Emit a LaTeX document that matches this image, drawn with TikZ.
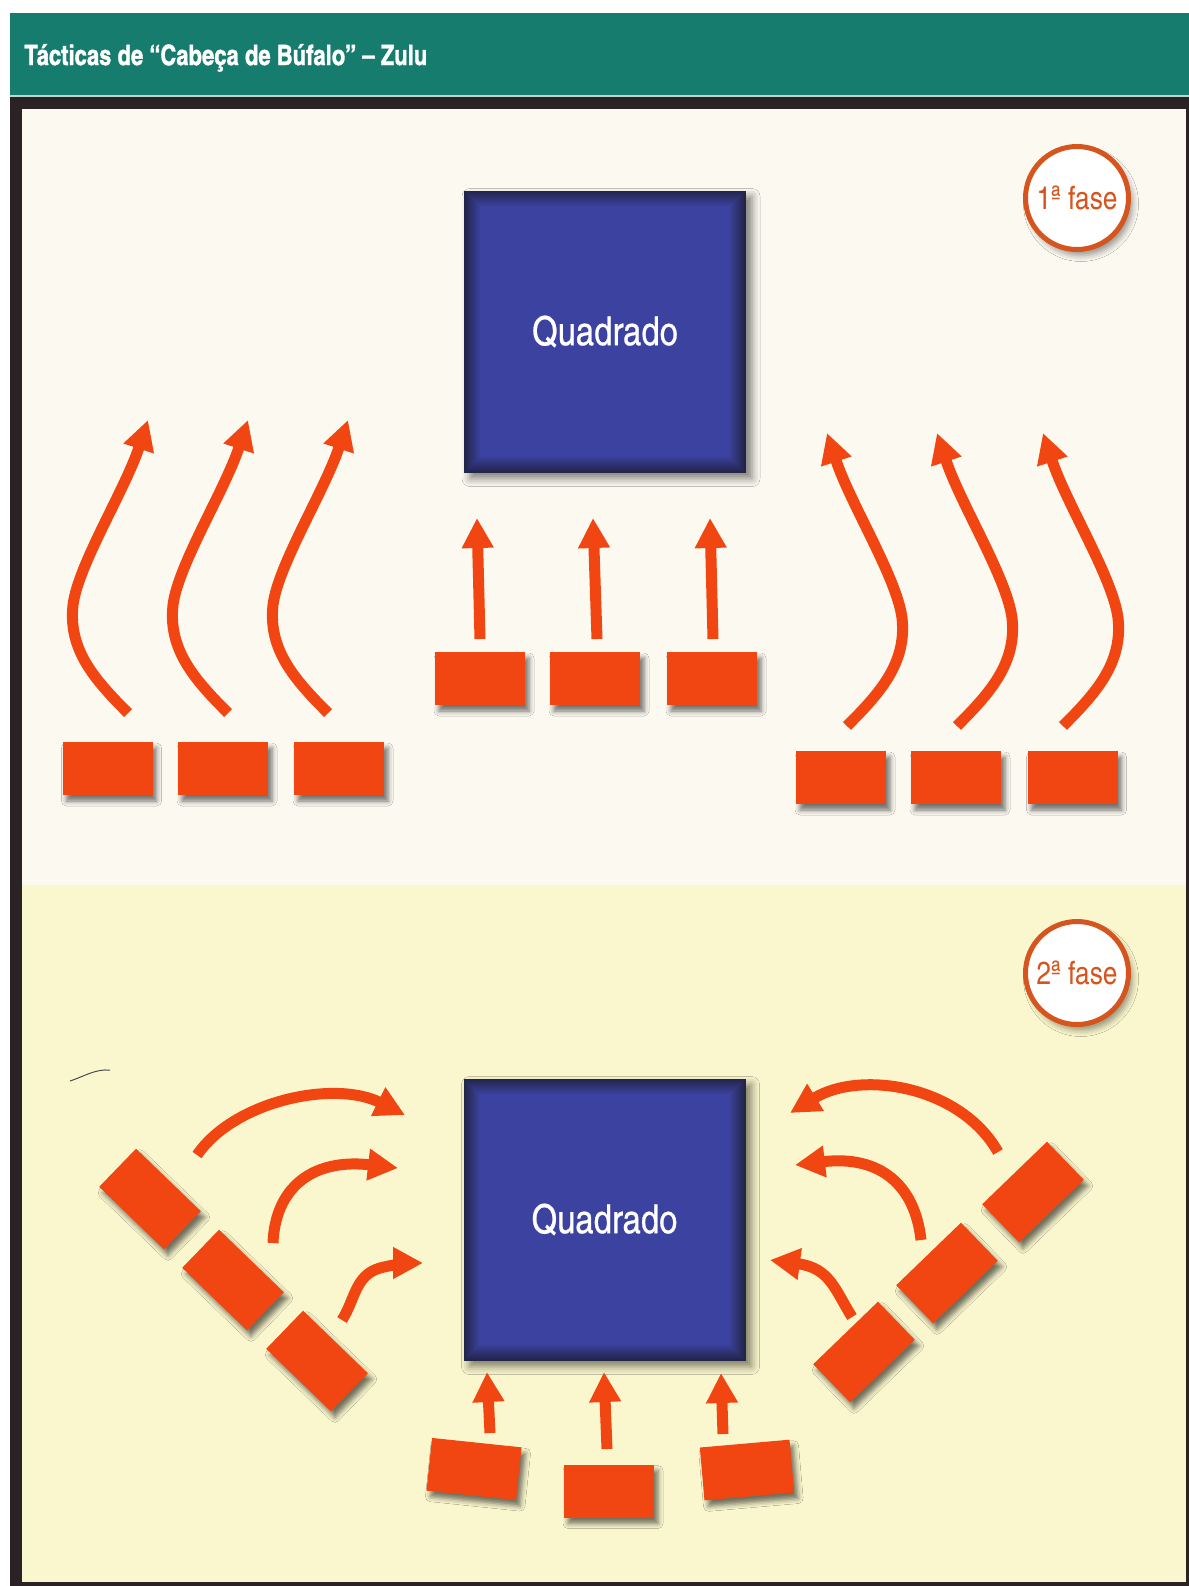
\documentclass[tikz,border=0pt]{standalone}
\usepackage{fontspec}
\newfontfamily\cnfont{texgyreheroscn}[Extension=.otf, UprightFont=*-regular, BoldFont=*-bold]
\newfontfamily\qfont{texgyreheroscn}[Extension=.otf, UprightFont=*-regular, FakeBold=0.6]
\newfontfamily\titlefont{texgyreheroscn}[Extension=.otf, UprightFont=*-bold, FakeStretch=0.96, FakeBold=1.2]
\usetikzlibrary{arrows.meta,shadows.blur,calc}
\definecolor{teal0}{RGB}{22,125,110}
\definecolor{frame0}{RGB}{43,34,37}
\definecolor{pan1}{RGB}{251,249,240}
\definecolor{pan2}{RGB}{250,247,206}
\definecolor{unit}{RGB}{242,70,18}
\definecolor{qblue}{RGB}{60,66,160}
\definecolor{qnavy}{RGB}{34,36,72}
\definecolor{faseor}{RGB}{214,84,30}
\begin{document}
\begin{tikzpicture}[x=0.5pt,y=-0.5pt,
  unitbox/.style={fill=unit, minimum width=45pt, minimum height=26.5pt, inner sep=0pt,
    blur shadow={shadow xshift=2pt, shadow yshift=-3pt, shadow blur radius=2.5pt, shadow opacity=55}},
  move/.style={draw=unit, line width=5.5pt, -{Triangle[width=15pt,length=15pt]}},
  square/.style={fill=qnavy, minimum width=141pt, minimum height=141pt, inner sep=0pt,
    blur shadow={shadow xshift=3pt, shadow yshift=-3pt, shadow blur radius=4pt, shadow opacity=50}},
  qlabel/.style={text=white, font=\qfont\fontsize{20pt}{24pt}\selectfont},
  fase/.style={circle, fill=white, draw=faseor, line width=2.5pt, minimum size=51.5pt, inner sep=0pt,
    text=faseor, font=\cnfont\fontsize{16pt}{18pt}\selectfont,
    blur shadow={shadow xshift=2pt, shadow yshift=-3pt, shadow blur radius=3pt, shadow opacity=40}},
]
\useasboundingbox (0,0) rectangle (1189,1586);
\fill[white] (0,0) rectangle (1189,1586);
% frame and header
\fill[teal0] (10,13) rectangle (1189,96);
\fill[frame0] (10,96) rectangle (1189,1586);
\draw[white!70!teal0, line width=0.6pt] (10,96) -- (1189,96);
\fill[pan1] (22,109) rectangle (1186,885);
\fill[pan2] (22,885) rectangle (1186,1582);
\node[anchor=base west, inner sep=0pt, text=white, font=\titlefont\fontsize{14pt}{16pt}\selectfont] (title) at (24,65) {Tácticas de “Cabeça de Búfalo” – Zulu};

% ---------- phase 1 ----------
\node[square] (sq1) at (605,331.5) {};
\foreach \i in {1,...,8}{
  \pgfmathtruncatemacro{\p}{\i*12.5}
  \fill[qblue!\p!qnavy] ($(sq1.north west)+(2*\i,2*\i)$) rectangle ($(sq1.south east)+(-2*\i,-2*\i)$);
}
\node[qlabel] (q1) at (sq1.center) {Quadrado};
\node[fase] (f1) at (1077,198) {1ª fase};

\node[unitbox] (a1) at (107.5,768.5) {};
\node[unitbox] (a2) at (223,768.5) {};
\node[unitbox] (a3) at (339,768.5) {};
\node[unitbox] (b1) at (480,678.5) {};
\node[unitbox] (b2) at (595,678.5) {};
\node[unitbox] (b3) at (712,678.5) {};
\node[unitbox] (c1) at (841,777.5) {};
\node[unitbox] (c2) at (956,777.5) {};
\node[unitbox] (c3) at (1072.5,777.5) {};

\coordinate (sa1) at (128,713);  \coordinate (ta1) at (148,420);
\coordinate (sa2) at (228,713);  \coordinate (ta2) at (248,420);
\coordinate (sa3) at (328,713);  \coordinate (ta3) at (348,420);
\draw[move] (sa1) .. controls (95,680) and (68,650) .. (73,605) .. controls (78,565) and (125,490) .. (ta1);
\draw[move] (sa2) .. controls (195,680) and (168,650) .. (173,605) .. controls (178,565) and (225,490) .. (ta2);
\draw[move] (sa3) .. controls (295,680) and (268,650) .. (273,605) .. controls (278,565) and (325,490) .. (ta3);

\coordinate (sb1) at (480,639);  \coordinate (tb1) at (477,518);
\coordinate (sb2) at (597,639);  \coordinate (tb2) at (593,518);
\coordinate (sb3) at (713,639);  \coordinate (tb3) at (710,518);
\draw[move] (sb1) -- (tb1);
\draw[move] (sb2) -- (tb2);
\draw[move] (sb3) -- (tb3);

\coordinate (sc1) at (847,726);  \coordinate (tc1) at (827,433);
\coordinate (sc2) at (957,726);  \coordinate (tc2) at (937,433);
\coordinate (sc3) at (1063,726); \coordinate (tc3) at (1043,433);
\draw[move] (sc1) .. controls (880,693) and (907,663) .. (902,618) .. controls (897,578) and (850,503) .. (tc1);
\draw[move] (sc2) .. controls (990,693) and (1017,663) .. (1012,618) .. controls (1007,578) and (960,503) .. (tc2);
\draw[move] (sc3) .. controls (1096,693) and (1123,663) .. (1118,618) .. controls (1113,578) and (1066,503) .. (tc3);

% ---------- phase 2 ----------
\node[square] (sq2) at (604.5,1219.5) {};
\foreach \i in {1,...,8}{
  \pgfmathtruncatemacro{\p}{\i*12.5}
  \fill[qblue!\p!qnavy] ($(sq2.north west)+(2*\i,2*\i)$) rectangle ($(sq2.south east)+(-2*\i,-2*\i)$);
}
\node[qlabel] (q2) at (sq2.center) {Quadrado};
\node[fase] (f2) at (1077,973) {2ª fase};

\draw[black!70, line width=0.5pt] (70,1081) .. controls (85,1076) and (95,1069) .. (110,1070);

\node[unitbox, rotate=-44] (d1) at (150,1199) {};
\node[unitbox, rotate=-44] (d2) at (233,1280) {};
\node[unitbox, rotate=-44] (d3) at (317,1361) {};
\node[unitbox, rotate=-6] (e1) at (474,1469) {};
\node[unitbox] (e2) at (609,1491) {};
\node[unitbox, rotate=5] (e3) at (747,1470) {};
\node[unitbox, rotate=44] (g1) at (1033,1192) {};
\node[unitbox, rotate=44] (g2) at (947,1273) {};
\node[unitbox, rotate=44] (g3) at (864,1352) {};

\coordinate (sd1) at (197,1155); \coordinate (td1) at (405,1115);
\coordinate (sd2) at (273,1243); \coordinate (td2) at (398,1168);
\coordinate (sd3) at (342,1320); \coordinate (td3) at (423,1263);
\draw[move] (sd1) .. controls (235,1100) and (335,1080) .. (td1);
\draw[move] (sd2) .. controls (275,1190) and (310,1158) .. (td2);
\draw[move] (sd3) .. controls (355,1300) and (355,1275) .. (380,1268) .. controls (395,1264) and (410,1263) .. (td3);

\coordinate (se1) at (490,1433); \coordinate (te1) at (487,1372);
\coordinate (se2) at (607,1449); \coordinate (te2) at (604,1372);
\coordinate (se3) at (723,1434); \coordinate (te3) at (721,1373);
\draw[move] (se1) -- (te1);
\draw[move] (se2) -- (te2);
\draw[move] (se3) -- (te3);

\coordinate (sg1) at (998,1152); \coordinate (tg1) at (790,1113);
\coordinate (sg2) at (921,1240); \coordinate (tg2) at (795,1165);
\coordinate (sg3) at (852,1317); \coordinate (tg3) at (770,1260);
\draw[move] (sg1) .. controls (960,1085) and (860,1070) .. (tg1);
\draw[move] (sg2) .. controls (915,1185) and (880,1155) .. (tg2);
\draw[move] (sg3) .. controls (835,1290) and (830,1268) .. (tg3);
\end{tikzpicture}
\end{document}
